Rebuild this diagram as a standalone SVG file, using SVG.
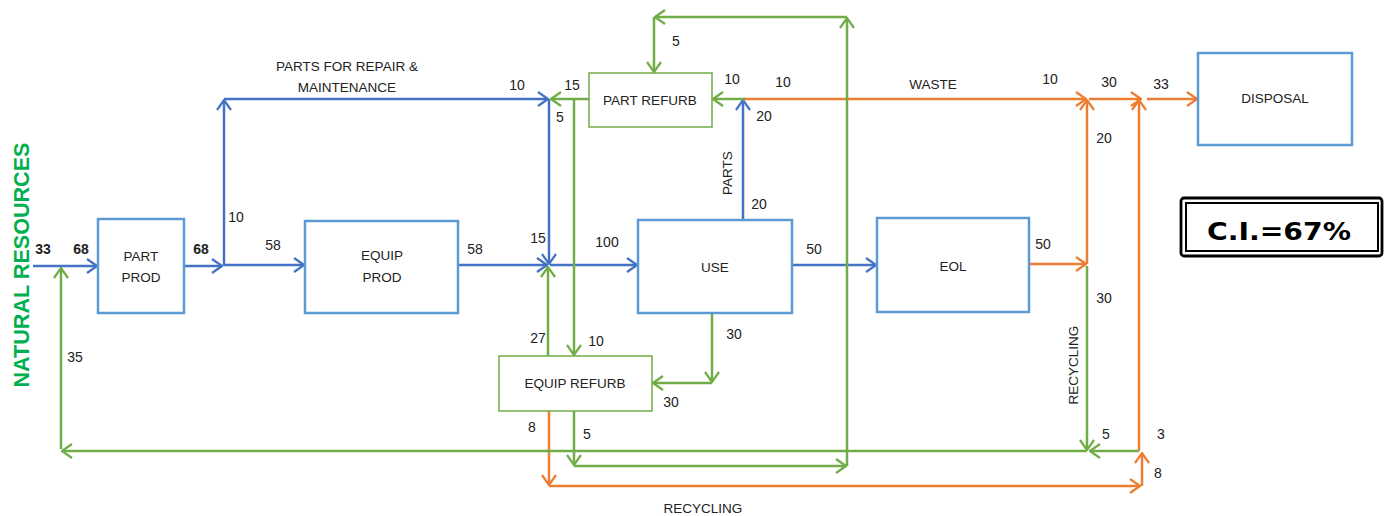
<svg xmlns="http://www.w3.org/2000/svg" width="1385" height="516" viewBox="0 0 1385 516">
<defs>
<style>
.t{font-family:"Liberation Sans",Arial,sans-serif;font-size:13.5px;fill:#222;}
.n{font-family:"Liberation Sans",Arial,sans-serif;font-size:14px;fill:#222;text-anchor:middle;}
.b{font-weight:bold;}
.m{text-anchor:middle;}
.bb{fill:#fff;stroke:#5B9BD5;stroke-width:2.5;}
.gb{fill:#fff;stroke:#70AD47;stroke-width:1.5;}
.bl{stroke:#4472C4;}
.gr{stroke:#70AD47;}
.or{stroke:#ED7D31;}
#conn path{fill:none;stroke-width:2.5;}
#conn .bl{marker-end:url(#ab);}
#conn .gr{marker-end:url(#ag);}
#conn .or{marker-end:url(#ao);}
</style>
<marker id="ab" viewBox="0 0 12 16" refX="11" refY="8" markerWidth="12" markerHeight="16" markerUnits="userSpaceOnUse" orient="auto"><path d="M1,1 L11,8 L1,15" fill="none" stroke="#4472C4" stroke-width="2.2"/></marker>
<marker id="ag" viewBox="0 0 12 16" refX="11" refY="8" markerWidth="12" markerHeight="16" markerUnits="userSpaceOnUse" orient="auto"><path d="M1,1 L11,8 L1,15" fill="none" stroke="#70AD47" stroke-width="2.2"/></marker>
<marker id="ao" viewBox="0 0 12 16" refX="11" refY="8" markerWidth="12" markerHeight="16" markerUnits="userSpaceOnUse" orient="auto"><path d="M1,1 L11,8 L1,15" fill="none" stroke="#ED7D31" stroke-width="2.2"/></marker>
</defs>
<rect width="1385" height="516" fill="#fff"/>

<g id="conn">
<!-- blue -->
<path class="bl" d="M33,266 H97"/>
<path class="bl" d="M184,266 H222"/>
<path class="bl" d="M224,266 V100"/>
<path class="bl" d="M224,99 H548"/>
<path class="bl" d="M224,265 H304"/>
<path class="bl" d="M458,265 H547"/>
<path class="bl" d="M549,99 V264"/>
<path class="bl" d="M550,265 H637"/>
<path class="bl" d="M743,220 V100"/>
<path class="bl" d="M792,265 H876"/>
<!-- orange -->
<path class="or" d="M743,99 H1086"/>
<path class="or" d="M1089,99 H1141"/>
<path class="or" d="M1147,99 H1197"/>
<path class="or" d="M1029,264 H1086"/>
<path class="or" d="M1087,264 V100"/>
<path class="or" d="M1139,451 V100"/>
<path class="or" d="M549,411 V485"/>
<path class="or" d="M549,486 H1140"/>
<path class="or" d="M1142,486 V453"/>
<!-- green -->
<path class="gr" d="M745,99 H713"/>
<path class="gr" d="M589,99 H551"/>
<path class="gr" d="M574,99 V355"/>
<path class="gr" d="M548,356 V267"/>
<path class="gr" d="M712,313 V382"/>
<path class="gr" d="M712,383 H653"/>
<path class="gr" d="M574,411 V465"/>
<path class="gr" d="M574,466 H846"/>
<path class="gr" d="M847,466 V18"/>
<path class="gr" d="M847,17 H655"/>
<path class="gr" d="M654,17 V72"/>
<path class="gr" d="M1087,266 V450"/>
<path class="gr" d="M1139,451 H1090"/>
<path class="gr" d="M1087,451 H62"/>
<path class="gr" d="M61,449 V268"/>
</g>

<g id="part-prod">
<rect class="bb" x="98" y="219" width="86" height="94"/>
<text class="t m" x="141" y="261">PART</text>
<text class="t m" x="141" y="282">PROD</text>
</g>
<g id="equip-prod">
<rect class="bb" x="305" y="221" width="153" height="92"/>
<text class="t m" x="382" y="260">EQUIP</text>
<text class="t m" x="382" y="282">PROD</text>
</g>
<g id="use">
<rect class="bb" x="638" y="220" width="154" height="93"/>
<text class="t m" x="715" y="272">USE</text>
</g>
<g id="eol">
<rect class="bb" x="877" y="218" width="152" height="94"/>
<text class="t m" x="953" y="271">EOL</text>
</g>
<g id="disposal">
<rect class="bb" x="1198" y="53" width="154" height="92"/>
<text class="t m" x="1275" y="103">DISPOSAL</text>
</g>
<g id="part-refurb">
<rect class="gb" x="589" y="73" width="123" height="54"/>
<text class="t m" x="650" y="105">PART REFURB</text>
</g>
<g id="equip-refurb">
<rect class="gb" x="499" y="356" width="153" height="55"/>
<text class="t m" x="575" y="388">EQUIP REFURB</text>
</g>
<g id="ci">
<rect x="1181" y="198" width="201" height="58" rx="3" fill="#fff" stroke="#000" stroke-width="2.8"/>
<rect x="1186" y="203" width="192" height="48" fill="none" stroke="#000" stroke-width="2"/>
<text x="1279" y="240" text-anchor="middle" font-family="'DejaVu Sans',sans-serif" font-weight="bold" font-size="25" textLength="144" lengthAdjust="spacingAndGlyphs" fill="#000">C.I.=67%</text>
</g>
<g id="natural-resources">
<text x="29" y="265" transform="rotate(-90 29 265)" text-anchor="middle" font-family="'Liberation Sans',Arial,sans-serif" font-weight="bold" font-size="22" textLength="245" lengthAdjust="spacingAndGlyphs" fill="#00B050">NATURAL RESOURCES</text>
</g>

<g id="labels">
<text class="n b" x="43" y="254">33</text>
<text class="n b" x="81" y="254">68</text>
<text class="n b" x="201" y="254">68</text>
<text class="n" x="236" y="222">10</text>
<text class="n" x="273" y="250">58</text>
<text class="n" x="75" y="362">35</text>
<text class="t m" x="347" y="71">PARTS FOR REPAIR &amp;</text>
<text class="t m" x="347" y="92">MAINTENANCE</text>
<text class="n" x="517" y="90">10</text>
<text class="n" x="560" y="122">5</text>
<text class="n" x="538" y="243">15</text>
<text class="n" x="475" y="254">58</text>
<text class="n" x="572" y="90">15</text>
<text class="n" x="676" y="46">5</text>
<text class="n" x="732" y="84">10</text>
<text class="n" x="783" y="87">10</text>
<text class="n" x="764" y="121">20</text>
<text class="t m" x="732" y="173" transform="rotate(-90 732 173)">PARTS</text>
<text class="n" x="759" y="209">20</text>
<text class="n" x="607" y="247">100</text>
<text class="n" x="538" y="343">27</text>
<text class="n" x="596" y="346">10</text>
<text class="n" x="734" y="339">30</text>
<text class="n" x="671" y="407">30</text>
<text class="n" x="532" y="432">8</text>
<text class="n" x="587" y="439">5</text>
<text class="t m" x="703" y="513">RECYCLING</text>
<text class="t m" x="933" y="89">WASTE</text>
<text class="n" x="1050" y="84">10</text>
<text class="n" x="1109" y="87">30</text>
<text class="n" x="1161" y="89">33</text>
<text class="n" x="1104" y="143">20</text>
<text class="n" x="814" y="254">50</text>
<text class="n" x="1043" y="249">50</text>
<text class="n" x="1104" y="303">30</text>
<text class="t m" x="1078" y="365" transform="rotate(-90 1078 365)">RECYCLING</text>
<text class="n" x="1106" y="439">5</text>
<text class="n" x="1161" y="439">3</text>
<text class="n" x="1158" y="478">8</text>
</g>
</svg>
